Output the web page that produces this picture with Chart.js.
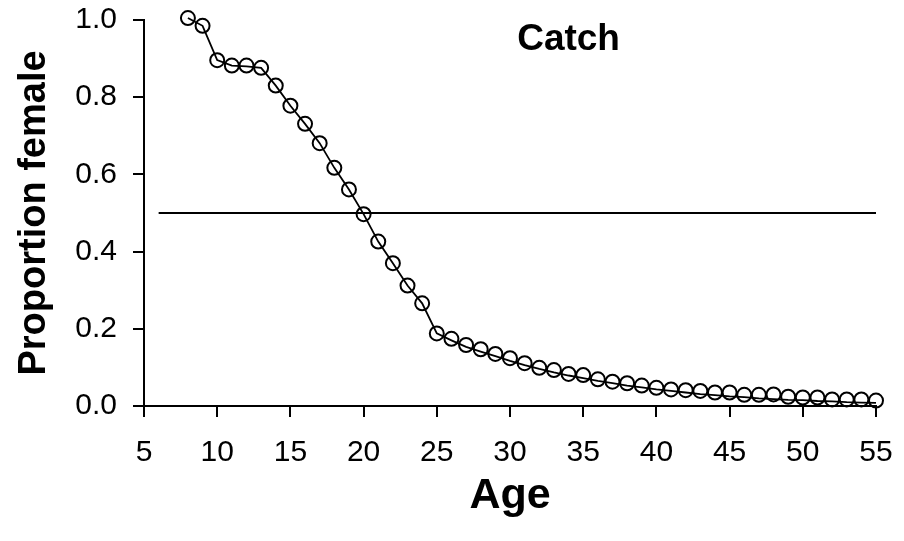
<!DOCTYPE html>
<html>
<head>
<meta charset="utf-8">
<script src="https://cdn.jsdelivr.net/npm/chart.js@4.4.1/dist/chart.umd.min.js"></script>
<style>
  html, body { margin: 0; padding: 0; background: #ffffff; }
  #wrap { width: 904px; height: 541px; }
</style>
</head>
<body>
<div id="wrap"><canvas id="c" width="904" height="541"></canvas></div>
<script>
// ---- data ----
const ages = [8,9,10,11,12,13,14,15,16,17,18,19,20,21,22,23,24,25,26,27,28,29,30,31,
              32,33,34,35,36,37,38,39,40,41,42,43,44,45,46,47,48,49,50,51,52,53,54,55];
const observed = [1.005,0.985,0.896,0.882,0.882,0.876,0.830,0.778,0.731,0.681,0.617,0.561,
                  0.497,0.426,0.370,0.312,0.266,0.188,0.174,0.158,0.147,0.135,0.124,0.111,
                  0.099,0.093,0.083,0.080,0.069,0.063,0.059,0.053,0.047,0.043,0.041,0.039,
                  0.035,0.035,0.029,0.029,0.030,0.024,0.022,0.022,0.017,0.017,0.017,0.014];
const fitted = [1.005,0.985,0.896,0.882,0.880,0.876,0.830,0.778,0.731,0.681,0.617,0.561,
                0.497,0.426,0.370,0.312,0.266,0.188,0.170,0.153,0.141,0.129,0.117,0.106,
                0.096,0.087,0.079,0.072,0.065,0.059,0.053,0.048,0.043,0.039,0.035,0.031,
                0.028,0.025,0.023,0.020,0.018,0.016,0.015,0.013,0.012,0.010,0.009,0.008];
const refAges = [6, 55];
const refValues = [0.5, 0.5];
const xTicks = [5,10,15,20,25,30,35,40,45,50,55];
const yTicks = [0.0,0.2,0.4,0.6,0.8,1.0];
const chartTitle = "Catch";
const xTitle = "Age";
const yTitle = "Proportion female";

const toXY = (xs, ys) => xs.map((x, i) => ({ x: x, y: ys[i] }));
const FAMILY = '"Liberation Sans", Arial, sans-serif';

const innerTitle = {
  id: 'innerTitle',
  afterDatasetsDraw(chart) {
    const ctx = chart.ctx;
    const xs = chart.scales.x, ys = chart.scales.y;
    ctx.save();
    ctx.fillStyle = '#000';
    ctx.font = 'bold 37px ' + FAMILY;
    ctx.textAlign = 'center';
    ctx.textBaseline = 'middle';
    ctx.fillText(chartTitle, xs.getPixelForValue(34), ys.getPixelForValue(0.948));
    ctx.restore();
  }
};

new Chart(document.getElementById('c'), {
  type: 'scatter',
  data: {
    datasets: [
      {
        label: 'fitted',
        data: toXY(ages, fitted),
        showLine: true,
        borderColor: '#000',
        borderWidth: 1.8,
        pointRadius: 0,
        fill: false,
        tension: 0,
        clip: false
      },
      {
        label: 'observed',
        data: toXY(ages, observed),
        showLine: false,
        pointStyle: 'circle',
        pointRadius: 7,
        pointBorderWidth: 2,
        pointBorderColor: '#000',
        pointBackgroundColor: 'rgba(0,0,0,0)',
        clip: false
      },
      {
        label: 'half',
        data: toXY(refAges, refValues),
        showLine: true,
        borderColor: '#000',
        borderWidth: 2,
        pointRadius: 0,
        clip: false
      }
    ]
  },
  options: {
    responsive: false,
    animation: false,
    devicePixelRatio: 1,
    layout: { padding: { left: 0, right: 28, top: 20, bottom: 0 } },
    plugins: {
      legend: { display: false },
      tooltip: { enabled: false }
    },
    scales: {
      x: {
        type: 'linear',
        min: 5, max: 55,
        afterBuildTicks: (s) => { s.ticks = xTicks.map(v => ({ value: v })); },
        afterFit: (s) => { s.height = 135; s.paddingLeft = 0; s.paddingRight = 0; },
        ticks: {
          color: '#000',
          font: { family: FAMILY, size: 30 },
          padding: 18,
          maxRotation: 0,
          autoSkip: false
        },
        grid: { drawOnChartArea: false, drawTicks: true, tickLength: 11, color: '#000', lineWidth: 2 },
        border: { display: true, color: '#000', width: 2 },
        title: {
          display: true, text: xTitle, color: '#000',
          font: { family: FAMILY, size: 43, weight: 'bold' },
          padding: { top: 0, bottom: 19 }
        }
      },
      y: {
        type: 'linear',
        min: 0, max: 1,
        afterBuildTicks: (s) => { s.ticks = yTicks.map(v => ({ value: v })); },
        afterFit: (s) => { s.width = 144; s.paddingTop = 0; s.paddingBottom = 0; },
        ticks: {
          color: '#000',
          font: { family: FAMILY, size: 30 },
          padding: 16,
          callback: (v) => Number(v).toFixed(1)
        },
        grid: { drawOnChartArea: false, drawTicks: true, tickLength: 11, color: '#000', lineWidth: 2 },
        border: { display: true, color: '#000', width: 2 },
        title: {
          display: true, text: yTitle, color: '#000',
          font: { family: FAMILY, size: 38, weight: 'bold' },
          padding: { top: 12, bottom: 0 }
        }
      }
    }
  },
  plugins: [innerTitle]
});
</script>
</body>
</html>
